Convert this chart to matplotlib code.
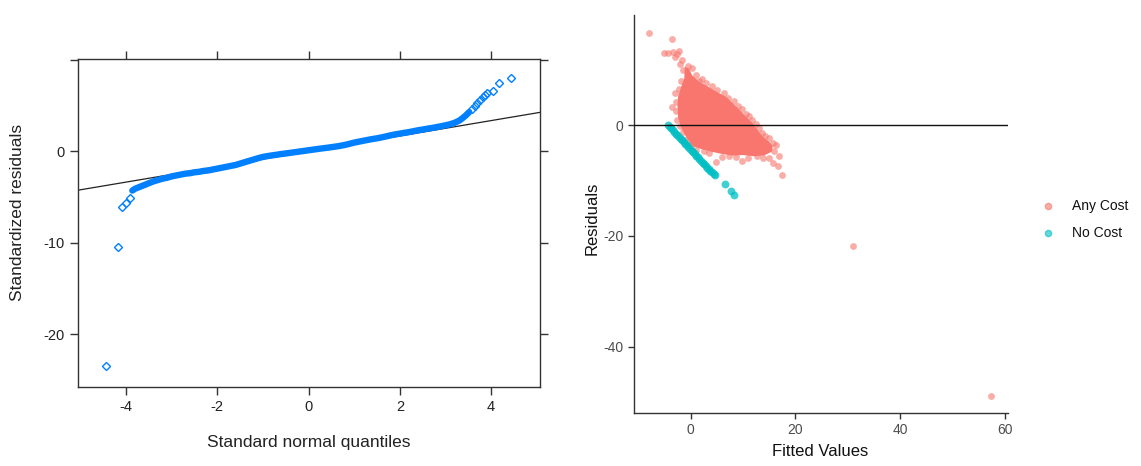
import numpy as np
import matplotlib.pyplot as plt
from matplotlib.lines import Line2D

plt.rcParams['font.family'] = ['Liberation Sans', 'DejaVu Sans']
plt.rcParams['axes.unicode_minus'] = False

#-------------QQ plot data----------------------------------
qq_tail_lo_x = [-4.43, -4.17, -4.08, -4.00, -3.92]
qq_tail_lo_y = [-23.5, -10.5, -6.08, -5.65, -5.14]

qq_band_x = [-3.86, -3.8, -3.7, -3.6, -3.5, -3.4, -3.3, -3.2, -3.1, -3.0,
             -2.9, -2.8, -2.7, -2.6, -2.5, -2.4, -2.3, -2.2, -2.1, -2.0,
             -1.9, -1.8, -1.7, -1.6, -1.5, -1.4, -1.3, -1.2, -1.1, -1.0,
             -0.9, -0.8, -0.7, -0.6, -0.5, -0.4, -0.3, -0.2, -0.1, 0.0,
             0.1, 0.2, 0.3, 0.4, 0.5, 0.6, 0.7, 0.8, 0.9, 1.0,
             1.1, 1.2, 1.3, 1.4, 1.5, 1.6, 1.7, 1.8, 1.9, 2.0,
             2.1, 2.2, 2.3, 2.4, 2.5, 2.6, 2.7, 2.8, 2.9, 3.0,
             3.1, 3.2, 3.3, 3.38, 3.45, 3.52]
qq_band_y = [-4.3, -4.1, -3.9, -3.7, -3.5, -3.3, -3.15, -3.0, -2.9, -2.75,
             -2.65, -2.55, -2.45, -2.4, -2.3, -2.25, -2.15, -2.1, -2.0, -1.9,
             -1.8, -1.7, -1.6, -1.5, -1.35, -1.2, -1.05, -0.9, -0.75, -0.62,
             -0.53, -0.45, -0.38, -0.3, -0.24, -0.17, -0.1, -0.03, 0.04, 0.11,
             0.18, 0.25, 0.32, 0.38, 0.45, 0.52, 0.6, 0.7, 0.82, 0.95,
             1.05, 1.15, 1.25, 1.34, 1.42, 1.52, 1.63, 1.75, 1.85, 1.93,
             2.02, 2.1, 2.2, 2.3, 2.38, 2.47, 2.55, 2.64, 2.74, 2.84,
             2.96, 3.12, 3.35, 3.65, 3.95, 4.3]

qq_tail_hi_x = [3.58, 3.64, 3.70, 3.76, 3.82, 3.87, 3.92, 4.05, 4.18, 4.43]
qq_tail_hi_y = [4.6, 4.95, 5.25, 5.6, 5.95, 6.2, 6.4, 6.6, 7.47, 7.98]

qq_line_x = [-5.05, 5.07]
qq_line_y = [-4.26, 4.26]

#-------------Residuals vs fitted data--------------
# outline of the solid core of "Any Cost" points
core_x = [-2.4, -1.8, -1.2, -1.1, -0.3, 0.3, 1.7, 3.6, 5.2, 6.8, 8.0, 9.3,
          10.6, 11.9, 12.9, 13.8, 15.0, 15.7, 15.5, 14.0, 12.0, 10.0, 8.0,
          6.0, 4.0, 2.0, 0.4, -0.8, -1.8, -2.4, -2.5]
core_y = [5.1, 6.9, 8.4, 10.5, 10.2, 9.0, 7.8, 6.8, 5.9, 5.1, 4.0, 2.8,
          1.5, 0.3, -1.0, -2.1, -3.0, -3.8, -4.8, -5.5, -5.6, -5.4, -5.5,
          -5.2, -4.8, -4.3, -3.8, -2.2, -0.4, 1.5, 3.5]

any_x = [-7.9, -3.6, -5.0, -4.4, -3.4, -2.2, -3.0, -2.6, -2.1, -1.6, -0.5,
         -1.4, 0.2, 1.0, 1.6, 3.0, 2.2, 4.0, 5.0, 6.3, 7.2, 8.3, 9.0, 9.8,
         10.5, 11.2, 11.8, 12.4, 13.0, 13.6, 14.3, 15.0, 15.8, 16.4, 16.0,
         16.8, 17.4, 16.6, 15.8, 15.0, 13.8, 12.6, 11.0, 9.8, 8.6, 7.3, 6.0,
         4.8, 3.5, 2.5, 1.0, 0.0, -0.9, -1.5, -2.1, -2.6, -2.8, -2.7, -3.5,
         -2.9, -2.3, -1.9, 31.1, 57.4]
any_y = [16.6, 15.5, 13.1, 13.0, 13.2, 13.4, 12.3, 12.8, 11.1, 11.8, 10.6,
         10.0, 10.4, 9.1, 8.0, 7.6, 8.3, 7.0, 6.3, 5.8, 4.9, 4.4, 3.5, 3.0,
         2.0, 1.6, 0.9, 0.2, -0.6, -1.5, -2.0, -2.3, -3.2, -3.6, -4.6,
         -5.5, -9.0, -7.4, -6.9, -5.9, -6.0, -5.6, -6.0, -6.4, -5.8, -5.6, -5.8,
         -6.7, -5.0, -4.7, -4.4, -3.5, -2.6, -1.3, -0.2, 1.0, 2.5, 4.2, 3.2,
         5.8, 6.5, 8.0, -21.9, -49.0]

no_x = [-4.3, -4.0, -3.7, -3.4, -3.1, -2.8, -2.5, -2.2, -1.9, -1.6, -1.3, -1.0,
        -0.7, -0.4, -0.1, 0.2, 0.5, 0.8, 1.1, 1.4, 1.7, 2.0, 2.3, 2.6, 2.9,
        3.2, 3.5, 3.8, 4.1, 4.4, 4.6, 6.5, 7.7, 8.2]
no_y = [0.0, -0.3, -0.6, -0.9, -1.2, -1.55, -1.85, -2.15, -2.45, -2.75, -3.05,
        -3.35, -3.65, -3.95, -4.3, -4.6, -4.9, -5.2, -5.5, -5.8, -6.1, -6.45,
        -6.75, -7.05, -7.35, -7.65, -7.95, -8.25, -8.55, -8.85, -9.0, -10.7,
        -11.9, -12.7]

groups = ['Any Cost', 'No Cost']
red = '#F8766D'
teal = '#00BFC4'
blue = '#0080FF'

W, H = 1141, 466
fig = plt.figure(figsize=(W / 100, H / 100), dpi=100)


def box(l, t, r, b):
    return [l / W, 1 - b / H, (r - l) / W, (b - t) / H]


#-------------Left panel: QQ plot-------------
ax1 = fig.add_axes(box(78, 59, 540, 387))
ax1.plot(qq_line_x, qq_line_y, color='#222222', lw=0.9, zorder=1)
ax1.plot(qq_band_x, qq_band_y, '-', color=blue, lw=4.6,
         solid_capstyle='round', solid_joinstyle='round', zorder=2)
ax1.plot(qq_tail_lo_x + qq_tail_hi_x, qq_tail_lo_y + qq_tail_hi_y, 'D',
         mfc='none', mec=blue, ms=4.2, mew=1.0, zorder=3)
ax1.set_xlim(-5.05, 5.07)
ax1.set_ylim(-25.8, 10.1)
ax1.set_xticks([-4, -2, 0, 2, 4])
ax1.set_yticks([-20, -10, 0, 10])
ax1.set_yticklabels(['-20', '-10', '0', ''])
ax1.tick_params(direction='out', length=6, width=1, color='#333333',
                top=True, right=True, labelsize=10.5, labelcolor='#222222')
for s in ax1.spines.values():
    s.set_color('#333333')
    s.set_linewidth(1)
fig.text(309 / W, 1 - 443 / H, 'Standard normal quantiles', ha='center',
         va='center', fontsize=12.5, color='#222222')
fig.text(18 / W, 1 - 212 / H, 'Standardized residuals', ha='center',
         va='center', rotation=90, fontsize=12.5, color='#222222')

#-------------Right panel: residuals vs fitted-------------
ax2 = fig.add_axes(box(634, 15, 1008, 413))
ax2.fill(core_x, core_y, color=red, lw=0, zorder=2)
ax2.scatter(any_x, any_y, s=24, color=red, alpha=0.6, lw=0, zorder=3)
ax2.scatter(no_x, no_y, s=32, color=teal, alpha=0.75, lw=0, zorder=3)
ax2.axhline(0, color='#111111', lw=1, zorder=4)
ax2.set_xlim(-10.8, 60.6)
ax2.set_ylim(-52.0, 19.9)
ax2.set_xticks([0, 20, 40, 60])
ax2.set_yticks([-40, -20, 0])
ax2.spines['top'].set_visible(False)
ax2.spines['right'].set_visible(False)
for s in ['left', 'bottom']:
    ax2.spines[s].set_color('#333333')
    ax2.spines[s].set_linewidth(1)
ax2.tick_params(direction='out', length=4, width=1, color='#333333',
                labelsize=10, labelcolor='#4D4D4D')
fig.text(820 / W, 1 - 452 / H, 'Fitted Values', ha='center', va='center',
         fontsize=12, color='#111111')
fig.text(592 / W, 1 - 218 / H, 'Residuals', ha='center', va='center',
         rotation=90, fontsize=12, color='#111111')

# legend
for i, (lab, col) in enumerate(zip(groups, [red, teal])):
    yy = 1 - (206 + 27 * i) / H
    fig.add_artist(Line2D([1048 / W], [yy], marker='o', ms=4.5, color=col,
                          alpha=0.6, lw=0, transform=fig.transFigure))
    fig.text(1072 / W, yy, lab, ha='left', va='center', fontsize=10,
             color='#111111')

fig.savefig('out.png', dpi=100)
